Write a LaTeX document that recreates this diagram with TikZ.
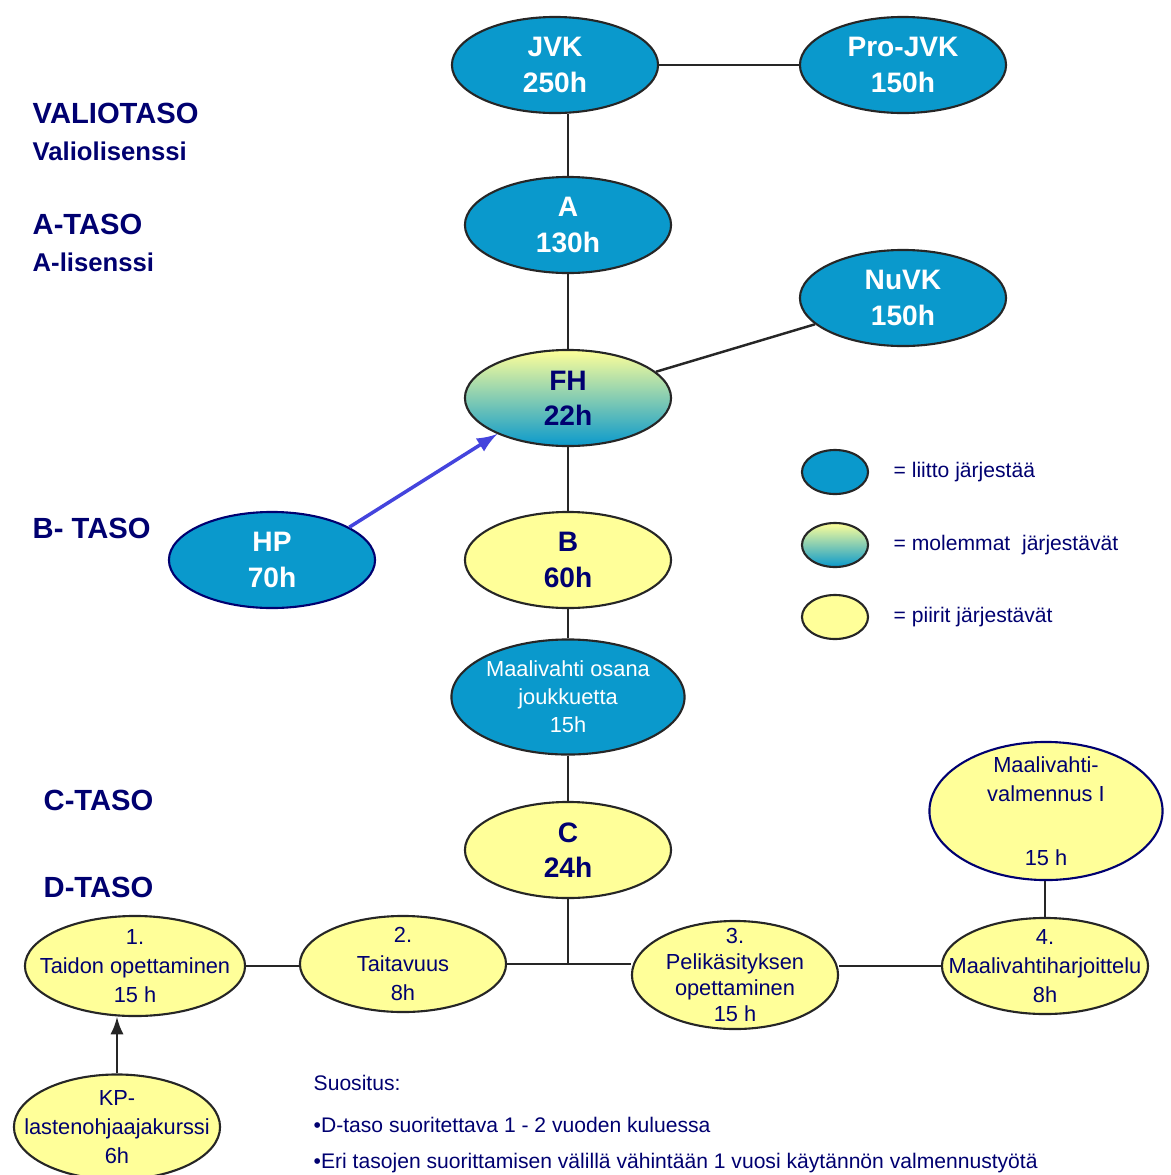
\documentclass[tikz,border=0pt]{standalone}
\usepackage{fontspec}
\setmainfont{Liberation Sans}
\usetikzlibrary{shapes.geometric}

\definecolor{liitto}{HTML}{0A99CC}
\definecolor{piiri}{HTML}{FFFF99}
\definecolor{laivasto}{HTML}{000070}
\definecolor{nuoli}{HTML}{4444DD}

\tikzset{
  kurssi/.style={ellipse,draw=black!85,line width=0.6pt,inner xsep=-0.6cm,inner ysep=-0.2cm,
    align=center,minimum width=2.06cm,minimum height=0.96cm},
  liittokurssi/.style={kurssi,fill=liitto,text=white,font=\fontsize{8}{10}\selectfont\bfseries},
  piirikurssi/.style={kurssi,fill=piiri,text=laivasto,font=\fontsize{8}{10}\selectfont\bfseries},
  pieni/.style={font=\fontsize{6.2}{8}\selectfont},
  taso/.style={anchor=west,inner sep=0pt,text=laivasto,align=left,font=\fontsize{8.3}{10.5}\selectfont\bfseries},
  selite/.style={anchor=west,inner sep=0pt,text=laivasto,font=\fontsize{6}{7}\selectfont},
}

\begin{document}
\begin{tikzpicture}[x=0.01cm,y=-0.01cm]
  \useasboundingbox (0,0) rectangle (1171,1175);

  % tasot
  \node[taso] (valio) at (32,132) {VALIOTASO\\{\fontsize{7.3}{9}\selectfont Valiolisenssi}};
  \node[taso] (ataso) at (32,243) {A-TASO\\{\fontsize{7.3}{9}\selectfont A-lisenssi}};
  \node[taso] (btaso) at (32,528) {B- TASO};
  \node[taso] (ctaso) at (43,800) {C-TASO};
  \node[taso] (dtaso) at (43,887) {D-TASO};

  % liiton kurssit
  \begin{scope}[every node/.style={liittokurssi}]
    \node (jvk)    at (555,65)  {JVK\\250h};
    \node (projvk) at (903,65)  {Pro-JVK\\150h};
    \node (a)      at (568,225) {A\\130h};
    \node (nuvk)   at (903,298) {NuVK\\150h};
    \node[draw=laivasto] (hp) at (272,560) {HP\\70h};
    \node[minimum width=2.33cm,minimum height=1.15cm,pieni] (osana) at (568,697)
      {Maalivahti osana\\joukkuetta\\15h};
  \end{scope}

  \node[kurssi,top color=piiri,middle color=piiri!75!liitto,bottom color=liitto,
    text=laivasto,font=\fontsize{8}{10}\selectfont\bfseries] (fh) at (568,398) {FH\\22h};

  % piirien kurssit
  \begin{scope}[every node/.style={piirikurssi}]
    \node (b) at (568,560) {B\\60h};
    \node (c) at (568,850) {C\\24h};
  \end{scope}

  \begin{scope}[every node/.style={piirikurssi,font=\fontsize{6.2}{8.2}\selectfont}]
    \node[minimum width=2.2cm,minimum height=1.0cm] (d1) at (135,966) {1.\\Taidon opettaminen\\15 h};
    \node (d2) at (403,964) {2.\\Taitavuus\\8h};
    \node[minimum height=1.08cm,font=\fontsize{6.2}{7.4}\selectfont] (d3) at (735,975)
      {3.\\Pelikäsityksen\\opettaminen\\15 h};
    \node (d4) at (1045,966) {4.\\Maalivahtiharjoittelu\\8h};
    \node[draw=laivasto,minimum width=2.33cm,minimum height=1.38cm] (mvv) at (1046,811)
      {Maalivahti-\\valmennus I\\[1.6em]15 h};
    \node[minimum height=1.05cm] (kp) at (117,1127) {KP-\\lastenohjaajakurssi\\6h};
  \end{scope}

  \coordinate (haara) at (568,963);

  % yhteydet
  \begin{scope}[line width=0.7pt,draw=black!85]
    \path (jvk)   edge (projvk);
    \path (a)     edge (a |- jvk.south);
    \path (a)     edge (fh);
    \path (fh)    edge (nuvk);
    \path (fh)    edge (b);
    \path (b)     edge (osana);
    \path (osana) edge (c);
    \path (c)     edge (haara);
    \path (d1)    edge (d1 -| d2.west);
    \path (d2)    edge (d2 -| d3.west);
    \path (d4)    edge (d4 -| d3.east);
    \path (d4)    edge (d4 |- mvv.south);
    \path (kp)    edge[-latex] (kp |- d1.south);
  \end{scope}
  \draw[nuoli,line width=1pt,-latex] (hp.23) -- (fh.207);

  % selitteet
  \begin{scope}[every node/.style={kurssi,inner sep=0pt,minimum width=0.66cm,minimum height=0.44cm}]
    \node[fill=liitto] (s1) at (835,472) {};
    \node[top color=piiri,middle color=piiri!75!liitto,bottom color=liitto] (s2) at (835,545) {};
    \node[fill=piiri] (s3) at (835,617) {};
  \end{scope}
  \node[selite] (t1) at (893,472) {= liitto järjestää};
  \node[selite] (t2) at (893,545) {= molemmat \ järjestävät};
  \node[selite] (t3) at (893,617) {= piirit järjestävät};

  % suositus
  \node[selite] (suos) at (313,1083) {Suositus:};
  \node[selite] (suos1) at (313,1125) {\textbullet D-taso suoritettava 1 - 2 vuoden kuluessa};
  \node[selite] (suos2) at (313,1163) {\textbullet Eri tasojen suorittamisen välillä vähintään 1 vuosi käytännön valmennustyötä};
\end{tikzpicture}
\end{document}
